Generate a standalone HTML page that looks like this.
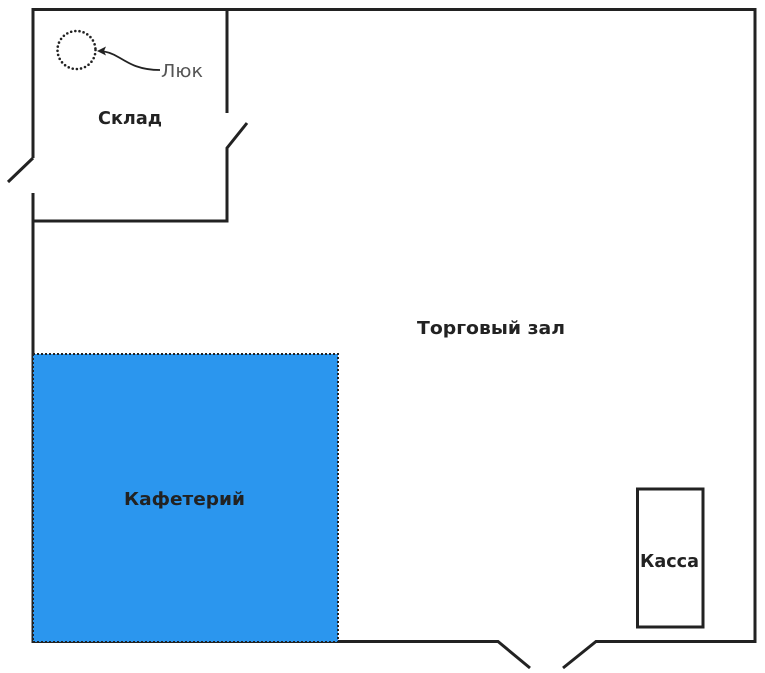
<!DOCTYPE html>
<html>
<head>
<meta charset="utf-8">
<style>
  html,body{margin:0;padding:0;background:#fff;}
  svg{display:block;}
  text{font-family:"DejaVu Sans","Liberation Sans",sans-serif;}
</style>
</head>
<body>
<svg width="765" height="673" viewBox="0 0 765 673" xmlns="http://www.w3.org/2000/svg">
  <rect x="0" y="0" width="765" height="673" fill="#fff"/>
  <g fill="none" stroke="#222" stroke-width="3" stroke-linecap="butt" stroke-linejoin="miter">
    <!-- outer walls -->
    <polyline points="33,158 33,9.5 755,9.5 755,641.5 596,641.5 563,668"/>
    <polyline points="530,668 498,641.5 33,641.5 33,193"/>
    <!-- left door -->
    <line x1="33" y1="158" x2="8" y2="182"/>
    <!-- storage inner walls -->
    <line x1="227" y1="9.5" x2="227" y2="113"/>
    <polyline points="33,221 227,221 227,148 247,123"/>
    <!-- kassa -->
    <rect x="637.5" y="489" width="65.5" height="138"/>
  </g>
  <!-- Cafeteria -->
  <rect x="33" y="354" width="305" height="288" fill="#2b96ee" stroke="#222" stroke-width="2" stroke-dasharray="2 2"/>
  <!-- hatch circle -->
  <circle cx="76.5" cy="50" r="19" fill="none" stroke="#222" stroke-width="2.6" stroke-dasharray="0 4.2" stroke-linecap="round"/>
  <!-- arrow -->
  <path d="M160,70 C140,70 130,64 120,58 C112,53 106,51 99,51" fill="none" stroke="#222" stroke-width="1.8"/>
  <path d="M97,51 L106,46.5 L104,51 L106,55.5 Z" fill="#222"/>
  <!-- labels -->
  <text x="161" y="77" font-size="18" fill="#555" textLength="42" lengthAdjust="spacingAndGlyphs">Люк</text>
  <text x="98" y="124" font-size="18" font-weight="bold" fill="#222" textLength="64" lengthAdjust="spacingAndGlyphs">Склад</text>
  <text x="417" y="334" font-size="18" font-weight="bold" fill="#222" textLength="148" lengthAdjust="spacingAndGlyphs">Торговый зал</text>
  <text x="124" y="505" font-size="18" font-weight="bold" fill="#222" textLength="121" lengthAdjust="spacingAndGlyphs">Кафетерий</text>
  <text x="640" y="567" font-size="18" font-weight="bold" fill="#222" textLength="59" lengthAdjust="spacingAndGlyphs">Касса</text>
</svg>
</body>
</html>
